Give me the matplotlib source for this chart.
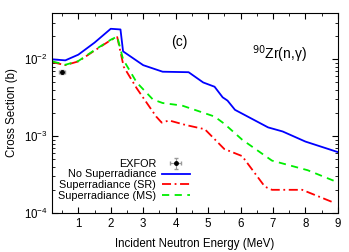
import matplotlib
matplotlib.use("Agg")
import matplotlib.pyplot as plt
from matplotlib.ticker import MultipleLocator, LogLocator, NullFormatter

# no superradiance
e_nosr = [0.2, 0.6, 1.0, 1.5, 2.0, 2.3, 2.38, 3.0, 3.6, 4.4, 4.85, 5.2, 5.45, 5.55, 5.6, 5.83, 6.85, 7.3, 8.0, 9.0]
xs_nosr = [0.0100, 0.0097, 0.0115, 0.0165, 0.0250, 0.0245, 0.0127, 0.0084, 0.0069, 0.0068, 0.0050, 0.0044, 0.0032, 0.0030, 0.0029, 0.0022, 0.0013, 0.00115, 0.00085, 0.00062]

# superradiance (SR)
e_sr = [0.2, 0.6, 1.0, 1.5, 2.0, 2.2, 2.4, 2.8, 3.4, 3.57, 3.8, 4.3, 4.9, 5.5, 6.05, 6.75, 6.97, 7.9, 8.9]
xs_sr = [0.0092, 0.0084, 0.0094, 0.0130, 0.0178, 0.0195, 0.0080, 0.0042, 0.0018, 0.0015, 0.0016, 0.0014, 0.00123, 0.00068, 0.00055, 0.00022, 0.0002, 0.0002, 0.000135]

# superradiance (MS)
e_ms = [0.2, 0.6, 1.0, 1.5, 2.0, 2.2, 2.38, 2.8, 3.3, 3.6, 4.2, 5.2, 5.5, 6.05, 6.97, 8.07, 9.0]
xs_ms = [0.0094, 0.0085, 0.0095, 0.0132, 0.0180, 0.0198, 0.0100, 0.0050, 0.0030, 0.0027, 0.0025, 0.0018, 0.00145, 0.0009, 0.00048, 0.00036, 0.00025]

# EXFOR point
e_exp = [0.5]
xs_exp = [0.0069]
e_exp_err = [0.1]
xs_exp_err = [0.0004]

plt.rcParams["font.family"] = ["Liberation Sans", "DejaVu Sans"]
plt.rcParams["font.size"] = 8.3

fig, ax = plt.subplots(figsize=(3.49, 2.52), dpi=100)
fig.subplots_adjust(left=0.15, right=0.968, top=0.948, bottom=0.155)

h_exp = ax.errorbar(e_exp, xs_exp, xerr=e_exp_err, yerr=xs_exp_err, fmt="o", color="black",
                    ecolor="#999999", markersize=2.5, elinewidth=0.8, capsize=1.5, label="EXFOR")
h_no, = ax.plot(e_nosr, xs_nosr, color="#0000ff", lw=1.3, label="No Superradiance")
h_sr, = ax.plot(e_sr, xs_sr, color="#ff0000", lw=1.3, dashes=(5, 2, 1, 2), label="Superradiance (SR)")
h_ms, = ax.plot(e_ms, xs_ms, color="#00ee00", lw=1.3, dashes=(4, 3), label="Superradiance (MS)")

ax.set_yscale("log")
ax.set_xlim(0.2, 9)
ax.set_ylim(1e-4, 4e-2)
ax.xaxis.set_major_locator(MultipleLocator(1))
ax.xaxis.set_minor_locator(MultipleLocator(0.5))
ax.yaxis.set_minor_locator(LogLocator(base=10, subs=range(2, 10)))
ax.yaxis.set_minor_formatter(NullFormatter())
ax.tick_params(which="both", direction="in", top=True, right=True)
ax.tick_params(which="major", length=4)
ax.tick_params(which="minor", length=2)

ax.set_xlabel("Incident Neutron Energy (MeV)", labelpad=6)
ax.set_ylabel("Cross Section (b)")

ax.text(4.1, 0.0166, "(c)", fontsize=10, ha="center", va="center")
ax.text(7.2, 0.0118, "$^{90}$Zr(n,γ)", fontsize=10, ha="center", va="center")

ax.legend([h_exp, h_no, h_sr, h_ms],
          ["EXFOR", "No Superradiance", "Superradiance (SR)", "Superradiance (MS)"],
          loc="lower right", bbox_to_anchor=(0.5, 0.035), markerfirst=False, frameon=False,
          fontsize=7.8, handlelength=2.6, labelspacing=0.05, borderpad=0.0, handletextpad=0.5)

fig.savefig("out.png", dpi=100)
